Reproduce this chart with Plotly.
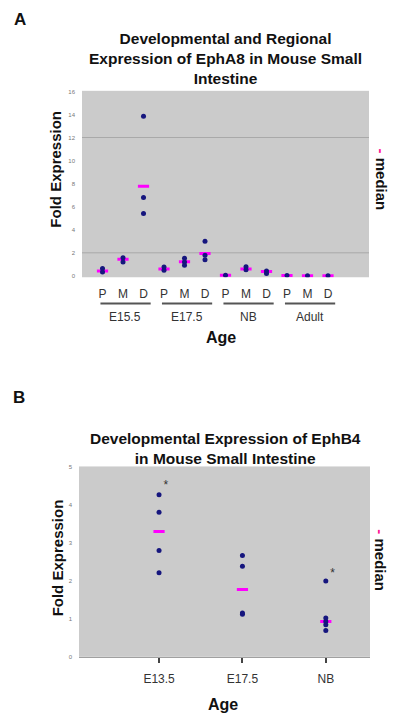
import plotly.graph_objects as go

# ---------------- Data: panel A (EphA8) ----------------
A_groups = ["E15.5", "E17.5", "NB", "Adult"]
A_regions = ["P", "M", "D"]
A_points = [
    [0.63, 0.34], [1.57, 1.20], [13.85, 6.80, 5.40],   # E15.5
    [0.77, 0.49], [1.52, 1.20, 0.92], [3.00, 1.78, 1.40],  # E17.5
    [0.06], [0.80, 0.52], [0.43, 0.20],                 # NB
    [0.03], [0.02], [0.02],                             # Adult
]
A_medians = [0.43, 1.43, 7.77, 0.60, 1.23, 1.95, 0.06, 0.60, 0.37, 0.03, 0.02, 0.02]
A_yticks = [0, 2, 4, 6, 8, 10, 12, 14, 16]
A_gridlines = [2, 12]

# ---------------- Data: panel B (EphB4) ----------------
B_categories = ["E13.5", "E17.5", "NB"]
B_points = [
    [4.26, 3.80, 2.79, 2.21],
    [2.66, 2.38, 1.15, 1.12],
    [1.99, 1.02, 0.93, 0.84, 0.69],
]
B_medians = [3.29, 1.77, 0.93]
B_star = [4.49, None, 2.18]
B_yticks = [0, 1, 2, 3, 4, 5]

DOT = "#16167e"
MED = "#ff00ff"
BG = "#cbcbcb"
FONT = "Liberation Sans, Arial, sans-serif"

# page has an 8px body margin: draw the figure 8px smaller and shift coordinates
OFF = 8
W, H = 400 - OFF, 723 - OFF
def px(x):
    return (x - OFF) / W
def py(y):
    return 1 - (y - OFF) / H

fig = go.Figure()

# Panel A traces
A_pos = list(range(1, len(A_medians) + 1))
fig.add_trace(go.Scatter(
    x=A_pos, y=A_medians, mode="markers", xaxis="x", yaxis="y",
    marker=dict(symbol="line-ew", size=8, line=dict(color=MED, width=3)),
    showlegend=False, hoverinfo="skip"))
ax, ay = [], []
for p, vals in zip(A_pos, A_points):
    for v in vals:
        ax.append(p)
        ay.append(v)
fig.add_trace(go.Scatter(
    x=ax, y=ay, mode="markers", xaxis="x", yaxis="y",
    marker=dict(size=5, color=DOT), showlegend=False))

# Panel B traces
B_pos = list(range(1, len(B_categories) + 1))
fig.add_trace(go.Scatter(
    x=B_pos, y=B_medians, mode="markers", xaxis="x2", yaxis="y2",
    marker=dict(symbol="line-ew", size=8, line=dict(color=MED, width=3)),
    showlegend=False, hoverinfo="skip"))
bx, by = [], []
for p, vals in zip(B_pos, B_points):
    for v in vals:
        bx.append(p)
        by.append(v)
fig.add_trace(go.Scatter(
    x=bx, y=by, mode="markers", xaxis="x2", yaxis="y2",
    marker=dict(size=5, color=DOT), showlegend=False))
sx = [p + 0.08 for p, s in zip(B_pos, B_star) if s is not None]
sy = [s for s in B_star if s is not None]
fig.add_trace(go.Scatter(
    x=sx, y=sy, mode="text", text=["*"] * len(sx), xaxis="x2", yaxis="y2",
    textfont=dict(size=12, color="#333333", family=FONT), showlegend=False))

shapes = []
for g in A_gridlines:
    shapes.append(dict(type="line", xref="x domain", yref="y", x0=0, x1=1, y0=g, y1=g,
                       line=dict(color="#a9a9a9", width=1), layer="below"))
annotations = []
for gi, g in enumerate(A_groups):
    first = A_pos[gi * 3]
    last = A_pos[gi * 3 + 2]
    shapes.append(dict(type="line", xref="x", yref="paper", x0=first - 0.1, x1=last + 0.35,
                       y0=py(303), y1=py(303), line=dict(color="#555555", width=2)))
    annotations.append(dict(text=g, xref="x", yref="paper", x=(first + last) / 2 + 0.1,
                            y=py(317), showarrow=False, yanchor="middle",
                            font=dict(size=12, color="#333333", family=FONT)))

def ann(text, x, y, size, bold=True, angle=0, color="#111111"):
    annotations.append(dict(text=("<b>%s</b>" % text) if bold else text, x=px(x), y=py(y),
                            xref="paper", yref="paper", showarrow=False, textangle=angle,
                            xanchor="center", yanchor="middle",
                            font=dict(size=size, color=color, family=FONT)))

ann("A", 20, 17, 17)
ann("B", 19, 398, 17)
ann("Developmental and Regional<br>Expression of EphA8 in Mouse Small<br>Intestine", 225, 56, 15.5)
ann("Developmental Expression of EphB4<br>in Mouse Small Intestine", 225, 449, 15.5)
ann("Fold Expression", 56, 168, 15)
annotations[-1]["textangle"] = -90
ann("Fold Expression", 57, 560, 15, angle=-90)
ann("Age", 221, 337, 16)
ann("Age", 223, 707, 16)
ann("<span style='color:#ff1493'>-</span> median", 381, 178, 15, angle=90)
ann("<span style='color:#ff1493'>-</span> median", 381, 562, 15, angle=90)

fig.update_layout(
    width=W, height=H, margin=dict(l=0, r=0, t=0, b=0),
    paper_bgcolor="white", plot_bgcolor=BG, font=dict(family=FONT),
    shapes=shapes, annotations=annotations,
    xaxis=dict(domain=[px(82), px(369)], anchor="y", range=[0, 14],
               tickvals=A_pos, ticktext=A_regions * len(A_groups),
               tickfont=dict(size=12, color="#333333"), ticks="", showgrid=False,
               zeroline=False, ticklabelstandoff=8, fixedrange=True),
    yaxis=dict(domain=[py(276.5), py(88.5)], anchor="x", range=[-0.12, 16.05],
               tickvals=A_yticks, tickfont=dict(size=6, color="#777777"), ticks="",
               showgrid=False, zeroline=False, ticklabelstandoff=6),
    xaxis2=dict(domain=[px(79), px(370)], anchor="y2", range=[0.04, 3.53],
                tickvals=B_pos, ticktext=B_categories,
                tickfont=dict(size=12, color="#333333"), ticks="outside", ticklen=5,
                tickwidth=2, tickcolor="#444444", showgrid=False, zeroline=False,
                showline=True, linecolor="#a0a0a0", linewidth=1, ticklabelstandoff=6),
    yaxis2=dict(domain=[py(659.3), py(467.3)], anchor="x2", range=[0, 5],
                tickvals=B_yticks, tickfont=dict(size=6, color="#777777"), ticks="",
                showgrid=False, zeroline=False, ticklabelstandoff=6),
)

fig.write_html("out.html")
